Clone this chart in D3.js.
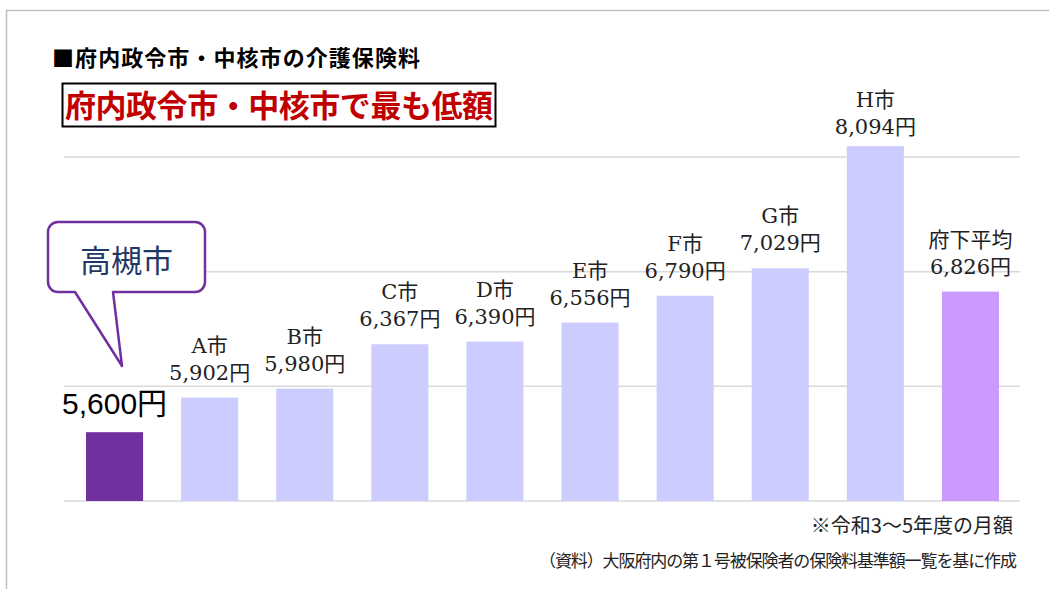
<!DOCTYPE html>
<html>
<head>
<meta charset="utf-8">
<script src="https://cdn.jsdelivr.net/npm/d3@7"></script>
<style>
  body { margin: 0; background: #fff; }
  svg { display: block; }
</style>
</head>
<body>
<script>
// data (monthly premium, yen)
const cities = ["高槻市", "A市", "B市", "C市", "D市", "E市", "F市", "G市", "H市", "府下平均"];
const premiums = [5600, 5902, 5980, 6367, 6390, 6556, 6790, 7029, 8094, 6826];
const gridTicks = [5000, 6000, 7000, 8000];

const width = 1049, height = 589;
const serif = "'DejaVu Serif', 'Noto Sans CJK JP', serif";
const sans = "'Liberation Sans', 'Noto Sans CJK JP', sans-serif";
const jp = "'Noto Sans CJK JP', sans-serif";

const svg = d3.select("body").append("svg")
    .attr("width", width)
    .attr("height", height);

// outer frame (top + left edge)
svg.append("path")
    .attr("d", "M6.5,589 V10.5 H1049")
    .attr("fill", "none")
    .attr("stroke", "#c0c0c0")
    .attr("stroke-width", 1.5);

const x = d3.scaleBand()
    .domain(cities)
    .range([67, 1018])
    .paddingInner(0.4)
    .paddingOuter(0.2);

const y = d3.scaleLinear()
    .domain([5000, 9000])
    .range([501, 42.3]);

// gridlines
svg.append("g")
    .selectAll("line")
    .data(gridTicks)
    .enter()
    .append("line")
    .attr("x1", 64)
    .attr("x2", 1020)
    .attr("y1", d => y(d))
    .attr("y2", d => y(d))
    .attr("stroke", "#d9d9d9")
    .attr("stroke-width", 1.5);

function barColor(d, i) {
  if (i === 0) return "#7030a0";
  if (i === cities.length - 1) return "#cc99ff";
  return "#ccccff";
}

svg.append("g")
    .selectAll("rect")
    .data(premiums)
    .enter()
    .append("rect")
    .attr("x", (d, i) => x(cities[i]))
    .attr("width", x.bandwidth())
    .attr("y", d => y(d))
    .attr("height", d => y(5000) - y(d))
    .attr("fill", barColor);

// labels above bars (skip Takatsuki, handled separately)
const fmt = d3.format(",");
const labels = svg.append("g")
    .attr("font-family", serif)
    .attr("font-size", 21)
    .attr("fill", "#222")
    .attr("text-anchor", "middle");

premiums.forEach((v, i) => {
  if (i === 0) return;
  const cx = x(cities[i]) + x.bandwidth() / 2;
  const off = i === 8 ? 11 : 17;
  labels.append("text")
      .attr("x", cx)
      .attr("y", y(v) - off - 1)
      .text(fmt(v) + "円");
  labels.append("text")
      .attr("x", cx)
      .attr("y", y(v) - off - 28)
      .text(cities[i]);
});

// Takatsuki value label
svg.append("text")
    .attr("x", x(cities[0]) + x.bandwidth() / 2)
    .attr("y", y(premiums[0]) - 18)
    .attr("text-anchor", "middle")
    .attr("font-family", sans)
    .attr("font-size", 30)
    .attr("fill", "#000")
    .text(fmt(premiums[0]) + "円");

// callout bubble
const bx = 48, by = 222, bw = 157, bh = 70, r = 10;
const bubble = d3.path();
bubble.moveTo(bx + r, by);
bubble.lineTo(bx + bw - r, by);
bubble.arcTo(bx + bw, by, bx + bw, by + r, r);
bubble.lineTo(bx + bw, by + bh - r);
bubble.arcTo(bx + bw, by + bh, bx + bw - r, by + bh, r);
bubble.lineTo(113, by + bh);
bubble.lineTo(122, 366);
bubble.lineTo(75, by + bh);
bubble.lineTo(bx + r, by + bh);
bubble.arcTo(bx, by + bh, bx, by + bh - r, r);
bubble.lineTo(bx, by + r);
bubble.arcTo(bx, by, bx + r, by, r);
bubble.closePath();
svg.append("path")
    .attr("d", bubble.toString())
    .attr("fill", "#fff")
    .attr("stroke", "#7030a0")
    .attr("stroke-width", 2.5)
    .attr("stroke-linejoin", "round");

svg.append("text")
    .attr("x", bx + bw / 2)
    .attr("y", 272)
    .attr("text-anchor", "middle")
    .attr("font-family", jp)
    .attr("font-size", 31)
    .attr("fill", "#1f3864")
    .text(cities[0]);

// titles
svg.append("text")
    .attr("x", 52)
    .attr("y", 66)
    .attr("font-family", jp)
    .attr("font-weight", "bold")
    .attr("font-size", 22)
    .attr("fill", "#000")
    .attr("textLength", 368)
    .text("■府内政令市・中核市の介護保険料");

svg.append("rect")
    .attr("x", 62.5)
    .attr("y", 83.5)
    .attr("width", 433)
    .attr("height", 43)
    .attr("fill", "#fff")
    .attr("stroke", "#000")
    .attr("stroke-width", 2);

svg.append("text")
    .attr("x", 279)
    .attr("y", 117)
    .attr("text-anchor", "middle")
    .attr("font-family", jp)
    .attr("font-weight", "bold")
    .attr("font-size", 31)
    .attr("fill", "#c00000")
    .attr("textLength", 428)
    .text("府内政令市・中核市で最も低額");

// footnotes
svg.append("text")
    .attr("x", 1013)
    .attr("y", 533)
    .attr("text-anchor", "end")
    .attr("font-family", jp)
    .attr("font-size", 20)
    .attr("fill", "#222")
    .text("※令和3～5年度の月額");

svg.append("text")
    .attr("x", 1017)
    .attr("y", 567)
    .attr("text-anchor", "end")
    .attr("font-family", jp)
    .attr("font-size", 17)
    .attr("fill", "#222")
    .attr("textLength", 478)
    .attr("lengthAdjust", "spacing")
    .text("（資料）大阪府内の第１号被保険者の保険料基準額一覧を基に作成");
</script>
</body>
</html>
